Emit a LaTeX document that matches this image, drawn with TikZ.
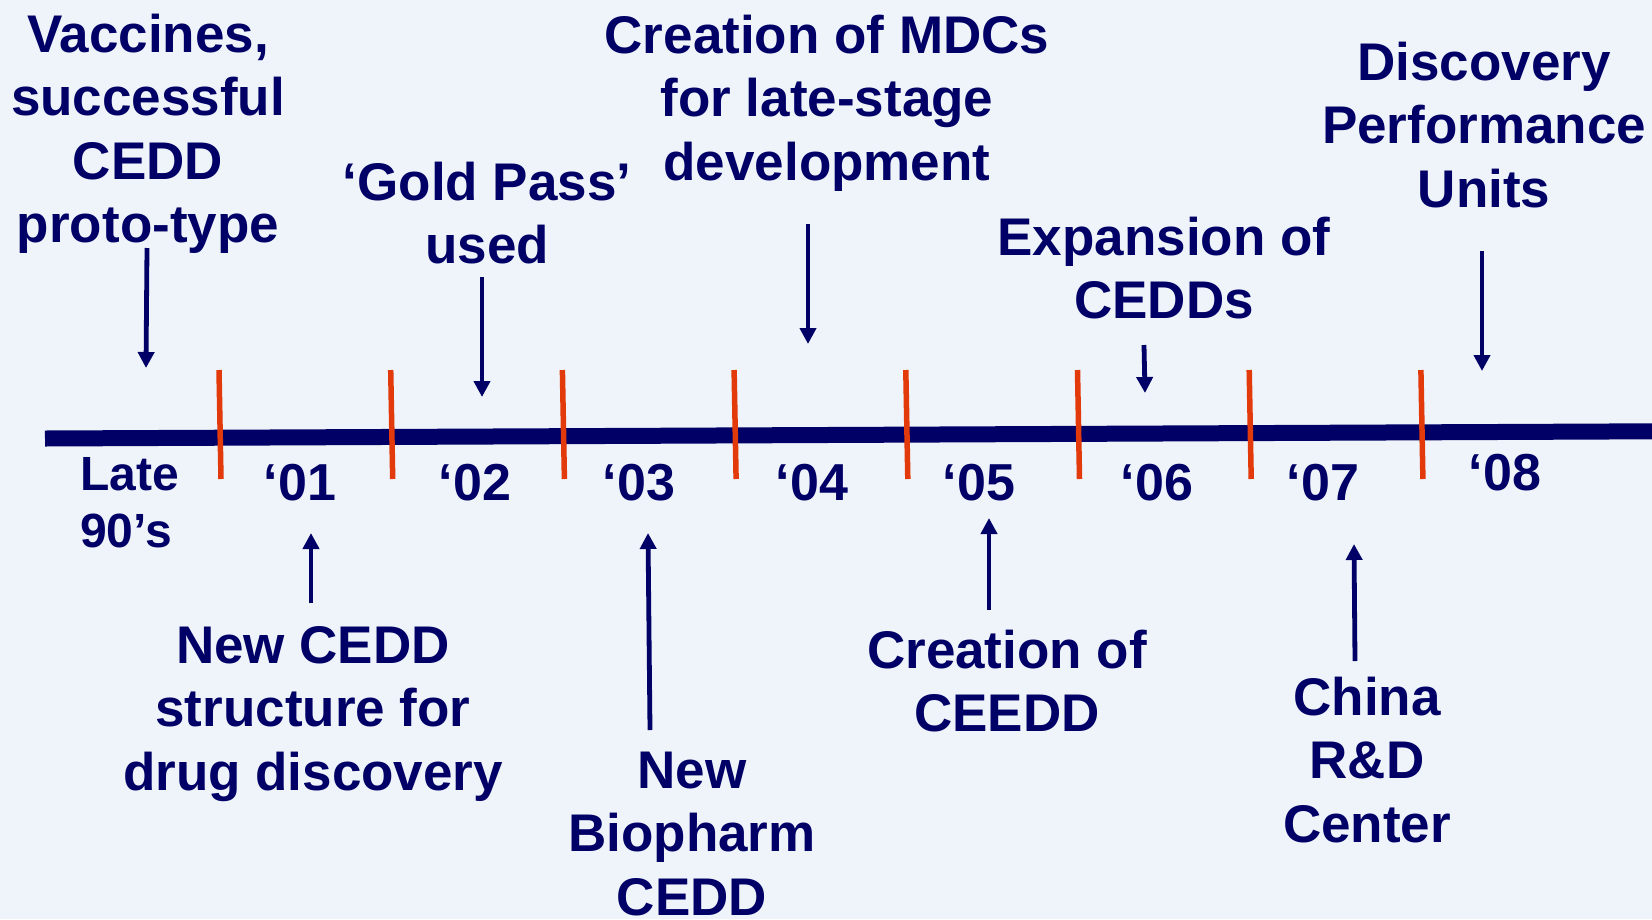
\documentclass[tikz,border=0pt]{standalone}
\usepackage{fontspec}
\setmainfont{Liberation Sans}
\usetikzlibrary{arrows.meta}
\definecolor{navy}{RGB}{0,0,102}
\definecolor{tickred}{RGB}{226,58,10}
\definecolor{bgc}{RGB}{239,244,250}
\tikzset{
  lab/.style={anchor=base, inner sep=0pt, text=navy, font=\bfseries\fontsize{53}{63.5}\selectfont},
  yr/.style={anchor=base, inner sep=0pt, text=navy, font=\bfseries\fontsize{52}{60}\selectfont},
  tick/.style={draw=tickred, line width=5.5pt},
  arr/.style={draw=navy, line width=4.8pt, -{Triangle[width=16pt,length=16pt]}},
  axis/.style={draw=navy, line width=16pt}
}
\begin{document}
\begin{tikzpicture}[x=1pt,y=-1pt]
\useasboundingbox (0,0) rectangle (1652,919);
\fill[bgc] (0,0) rectangle (1652,919);
% main axis
\coordinate (axL) at (45,438.5);
\coordinate (axR) at (1652,431.3);
\draw[axis] (axL) -- (axR);
% ticks
\foreach \i in {0,...,7}{
  \pgfmathsetmacro{\tx}{220+171.7*\i}
  \coordinate (t\i a) at (\tx-1,370);
  \coordinate (t\i b) at (\tx+1,479);
  \draw[tick] (t\i a) -- (t\i b);
}
% top labels
\node[lab] (vacc) at (148,52) {\begin{tabular}[t]{@{}c@{}}Vaccines,\\successful\\CEDD\\proto-type\end{tabular}};
\node[lab] (gold) at (487,200) {\begin{tabular}[t]{@{}c@{}}‘Gold Pass’\\used\end{tabular}};
\node[lab] (mdc) at (827,53) {\begin{tabular}[t]{@{}c@{}}Creation of MDCs\\for late-stage\\development\end{tabular}};
\node[lab] (exp) at (1164,255) {\begin{tabular}[t]{@{}c@{}}Expansion of\\CEDDs\end{tabular}};
\node[lab] (disc) at (1484,80) {\begin{tabular}[t]{@{}c@{}}Discovery\\Performance\\Units\end{tabular}};
% bottom labels
\node[lab] (newcedd) at (313,663) {\begin{tabular}[t]{@{}c@{}}New CEDD\\structure for\\drug discovery\end{tabular}};
\node[lab] (bio) at (692,788) {\begin{tabular}[t]{@{}c@{}}New\\Biopharm\\CEDD\end{tabular}};
\node[lab] (ceedd) at (1007,668) {\begin{tabular}[t]{@{}c@{}}Creation of\\CEEDD\end{tabular}};
\node[lab] (china) at (1367,715) {\begin{tabular}[t]{@{}c@{}}China\\R\&D\\Center\end{tabular}};
% years
\node[yr, anchor=base west, font=\bfseries\fontsize{48}{57}\selectfont] (late) at (80,490) {\begin{tabular}[t]{@{}l@{}}Late\\90’s\end{tabular}};
\node[yr] (y01) at (300,500) {‘01};
\node[yr] (y02) at (475,500) {‘02};
\node[yr] (y03) at (639,500) {‘03};
\node[yr] (y04) at (812,500) {‘04};
\node[yr] (y05) at (979,500) {‘05};
\node[yr] (y06) at (1157,500) {‘06};
\node[yr] (y07) at (1323,500) {‘07};
\node[yr] (y08) at (1505,490) {‘08};
% arrow end points
\coordinate (a1s) at (147,248);  \coordinate (a1e) at (146,368);
\coordinate (a2s) at (482,277);  \coordinate (a2e) at (482,397);
\coordinate (a3s) at (808,224);  \coordinate (a3e) at (808,344);
\coordinate (a4s) at (1144,345); \coordinate (a4e) at (1145,393);
\coordinate (a5s) at (1482,251); \coordinate (a5e) at (1482,371);
\coordinate (a6s) at (311,603);  \coordinate (a6e) at (311,533);
\coordinate (a7s) at (650,730);  \coordinate (a7e) at (648,533);
\coordinate (a8s) at (989,610);  \coordinate (a8e) at (989,518);
\coordinate (a9s) at (1355,661); \coordinate (a9e) at (1354,544);
\foreach \k in {1,...,9}{ \draw[arr] (a\k s) -- (a\k e); }
\end{tikzpicture}
\end{document}
